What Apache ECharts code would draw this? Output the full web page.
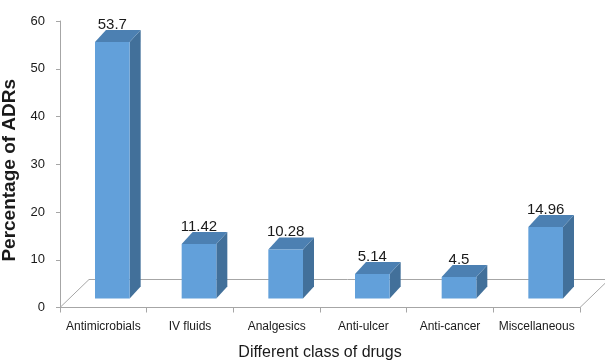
<!DOCTYPE html>
<html>
<head>
<meta charset="utf-8">
<script src="https://cdn.jsdelivr.net/npm/echarts@6/dist/echarts.min.js"></script>
<style>
  html, body { margin: 0; padding: 0; background: #fff; }
  #chart { width: 605px; height: 360px; }
</style>
</head>
<body>
<div id="chart"></div>
<script>
// data
var categories = ['Antimicrobials', 'IV fluids', 'Analgesics', 'Anti-ulcer', 'Anti-cancer', 'Miscellaneous']
var adrPercent = [53.7, 11.42, 10.28, 5.14, 4.5, 14.96]
var yTicks = [0, 10, 20, 30, 40, 50, 60]

var FONT = "'Liberation Sans', Arial, sans-serif"

// fake 3D look
var FLOOR_DX = 29, FLOOR_DY = -28   // floor depth
var OFF_X = 9, OFF_Y = -9           // bar front face inside the floor
var DEP_X = 11, DEP_Y = -12         // bar depth

var chart = echarts.init(document.getElementById('chart'))

var option = {
  animation: false,
  grid: { left: 60, right: 25, top: 21, bottom: 52.5, containLabel: false, outerBoundsMode: 'none' },
  xAxis: {
    type: 'category',
    data: categories,
    boundaryGap: true,
    name: 'Different class of drugs',
    nameLocation: 'middle',
    nameGap: 37,
    nameTextStyle: { color: '#1a1a1a', fontSize: 16, fontFamily: FONT },
    axisLine: { lineStyle: { color: '#a6a6a6', width: 1 } },
    axisTick: { show: true, length: 5, lineStyle: { color: '#a6a6a6' } },
    axisLabel: { color: '#1a1a1a', fontSize: 12, fontFamily: FONT, margin: 13, interval: 0 }
  },
  yAxis: {
    type: 'value',
    min: yTicks[0],
    max: yTicks[yTicks.length - 1],
    interval: 10,
    name: 'Percentage of ADRs',
    nameLocation: 'middle',
    nameRotate: 90,
    nameGap: 30,
    nameTextStyle: { color: '#1a1a1a', fontSize: 19, fontWeight: 'bold', fontFamily: FONT, padding: [0, 12, 0, 0] },
    axisLine: { show: true, lineStyle: { color: '#a6a6a6', width: 1 } },
    axisTick: { show: true, length: 4, lineStyle: { color: '#a6a6a6' } },
    axisLabel: { color: '#1a1a1a', fontSize: 13, fontFamily: FONT, margin: 15 },
    splitLine: { show: false }
  },
  series: [
    {
      // floor outline
      type: 'custom',
      z: 1,
      silent: true,
      data: [[0, 0]],
      renderItem: function (params, api) {
        var cs = params.coordSys
        var x = cs.x, y = cs.y + cs.height, w = cs.width
        return {
          type: 'polyline',
          shape: {
            points: [
              [x, y], [x + FLOOR_DX, y + FLOOR_DY],
              [x + w + FLOOR_DX, y + FLOOR_DY], [x + w, y]
            ]
          },
          style: { stroke: '#a6a6a6', lineWidth: 1, fill: null }
        }
      }
    },
    {
      type: 'custom',
      z: 2,
      data: adrPercent.map(function (v, i) { return [i, v] }),
      encode: { x: 0, y: 1 },
      renderItem: function (params, api) {
        var i = api.value(0), v = api.value(1)
        var top = api.coord([i, v])
        var base = api.coord([i, 0])
        var band = api.size([1, 0])[0]
        var w = band * 0.4
        var cx = base[0] + OFF_X
        var l = cx - w / 2, r = cx + w / 2
        var b = base[1] + OFF_Y, t = top[1] + OFF_Y
        return {
          type: 'group',
          children: [
            {
              type: 'polygon',
              shape: { points: [[r, b], [r + DEP_X, b + DEP_Y], [r + DEP_X, t + DEP_Y], [r, t]] },
              style: { fill: '#42709a' }
            },
            {
              type: 'polygon',
              shape: { points: [[l, t], [l + DEP_X, t + DEP_Y], [r + DEP_X, t + DEP_Y], [r, t]] },
              style: { fill: '#4c80b2' }
            },
            {
              type: 'rect',
              shape: { x: l, y: t, width: w, height: b - t },
              style: { fill: '#62a0da' }
            },
            {
              type: 'text',
              style: {
                x: cx,
                y: t + DEP_Y + 2,
                text: String(v),
                align: 'center',
                verticalAlign: 'bottom',
                fill: '#1a1a1a',
                fontSize: 15,
                fontFamily: FONT
              }
            }
          ]
        }
      }
    }
  ]
}

chart.setOption(option)
</script>
</body>
</html>
